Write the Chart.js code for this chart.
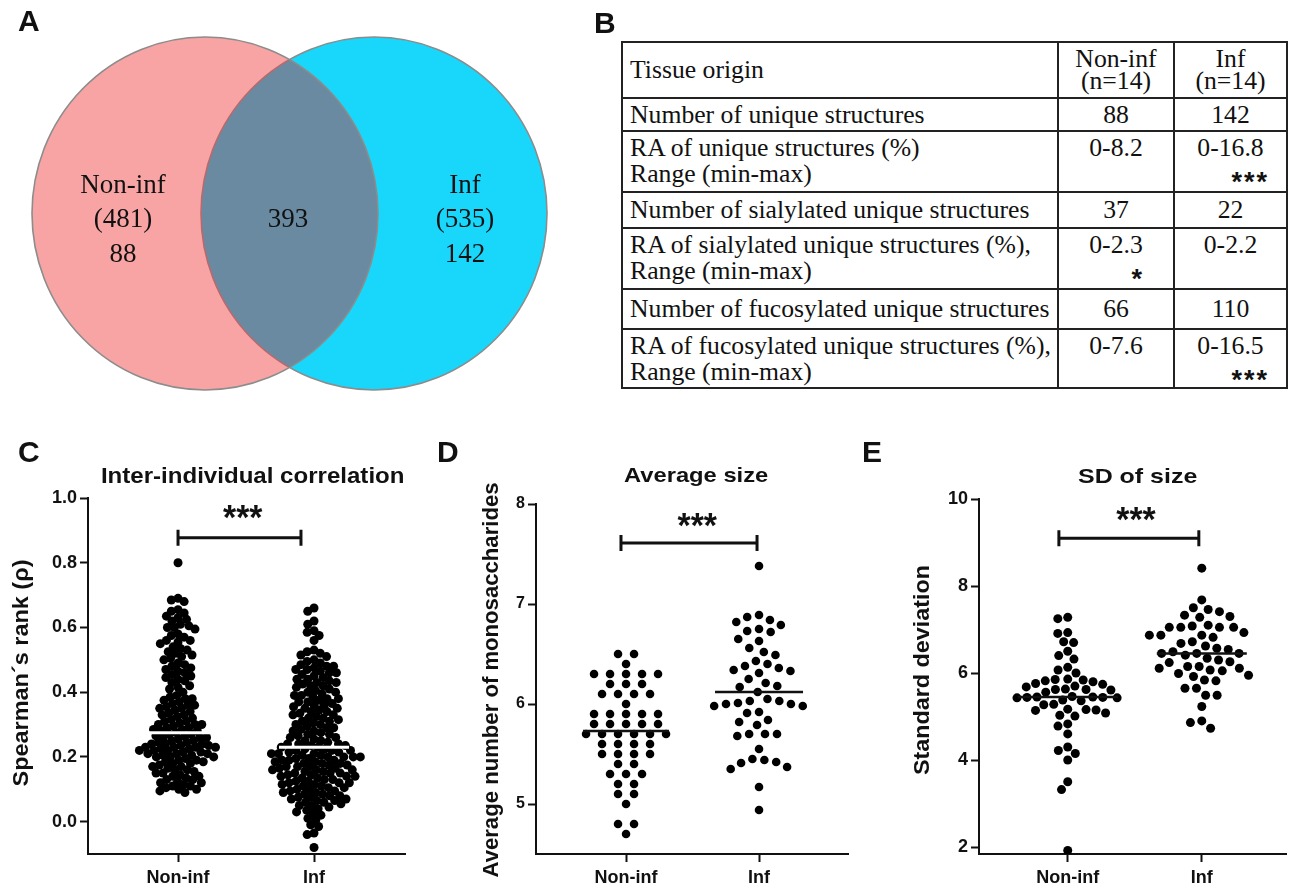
<!DOCTYPE html>
<html>
<head>
<meta charset="utf-8">
<title>Unique structures and dot plots, Non-inf vs Inf</title>
<script src="https://cdn.jsdelivr.net/npm/chart.js@4.4.1/dist/chart.umd.min.js"></script>
<style>
  html, body { margin: 0; padding: 0; background: #fff; }
  body { position: relative; width: 1291px; height: 886px; overflow: hidden; color: #111; }
  canvas, .letter, #tbl { position: absolute; }
  .letter { font: bold 30px "Liberation Sans", Arial, sans-serif; line-height: 30px; }
  #tbl { left: 621px; top: 41px; border-collapse: collapse; table-layout: fixed; width: 665px;
         font-family: "Liberation Serif", "Times New Roman", serif; font-size: 25.7px; color: #111; }
  #tbl td { border: 2px solid #222; padding: 0 7px; line-height: 26px; white-space: nowrap; }
  #tbl td.mid { vertical-align: middle; }
  #tbl td.top { vertical-align: top; padding-top: 3px; }
  #tbl td.hd { text-align: center; vertical-align: top; line-height: 22px; padding-top: 5px; }
  #tbl td.val { text-align: center; }
  #tbl .sig { font: bold 27px "Liberation Sans", Arial, sans-serif; letter-spacing: 2px; text-align: right;
              line-height: 26px; position: relative; top: 8px; }
</style>
</head>
<body>
<canvas id="venn" width="600" height="440" style="left:0;top:0"></canvas>
<table id="tbl"></table>
<canvas id="chartC" width="430" height="431" style="left:0;top:455px"></canvas>
<canvas id="chartD" width="430" height="431" style="left:430px;top:455px"></canvas>
<canvas id="chartE" width="431" height="431" style="left:860px;top:455px"></canvas>
<div class="letter" style="left:18px;top:6px">A</div>
<div class="letter" style="left:594px;top:8px">B</div>
<div class="letter" style="left:18px;top:437px">C</div>
<div class="letter" style="left:437px;top:437px">D</div>
<div class="letter" style="left:862px;top:437px">E</div>
<script>
// ---------- data ----------
const groups = ['Non-inf', 'Inf'];

// A: Venn
const vennTotals = [481, 535];
const vennUnique = [88, 142];
const vennShared = 393;

// B: table
const tableHead = [['Tissue origin'], ['Non-inf', '(n=14)'], ['Inf', '(n=14)']];
const rowLabels = [
  ['Number of unique structures'],
  ['RA of unique structures (%)', 'Range (min-max)'],
  ['Number of sialylated unique structures'],
  ['RA of sialylated unique structures (%),', 'Range (min-max)'],
  ['Number of fucosylated unique structures'],
  ['RA of fucosylated unique structures (%),', 'Range (min-max)']
];
const nonInfCol = ['88', '0-8.2', '37', '0-2.3', '66', '0-7.6'];
const infCol = ['142', '0-16.8', '22', '0-2.2', '110', '0-16.5'];
const nonInfSig = ['', '', '', '*', '', ''];
const infSig = ['', '***', '', '', '', '***'];

// C: inter-individual correlation (Spearman's rho)
const corrNonInf = [0.80, 0.69, 0.685, 0.68, 0.655, 0.65, 0.645, 0.635, 0.63, 0.625, 0.62, 0.61, 0.605, 0.60, 0.60,
  0.595, 0.58, 0.575, 0.57, 0.56, 0.56, 0.555, 0.55, 0.54, 0.535, 0.53, 0.525, 0.52, 0.515, 0.51, 0.505, 0.50,
  0.49, 0.485, 0.48, 0.475, 0.47, 0.465, 0.46, 0.455, 0.45, 0.445, 0.44, 0.435, 0.43, 0.42, 0.415, 0.41, 0.40,
  0.39, 0.385, 0.38, 0.38, 0.375, 0.37, 0.365, 0.36, 0.36, 0.355, 0.35, 0.35, 0.345, 0.34, 0.335, 0.33, 0.33,
  0.325, 0.32, 0.315, 0.31, 0.31, 0.305, 0.30, 0.30, 0.30, 0.295, 0.29, 0.29, 0.285, 0.285, 0.28, 0.28, 0.275,
  0.27, 0.27, 0.265, 0.265, 0.26, 0.26, 0.26, 0.255, 0.25, 0.25, 0.245, 0.245, 0.24, 0.24, 0.24, 0.235, 0.235,
  0.23, 0.23, 0.23, 0.23, 0.225, 0.225, 0.22, 0.22, 0.22, 0.215, 0.215, 0.21, 0.21, 0.21, 0.205, 0.205, 0.20,
  0.20, 0.20, 0.195, 0.19, 0.19, 0.185, 0.185, 0.18, 0.18, 0.175, 0.17, 0.17, 0.165, 0.16, 0.16, 0.155, 0.15,
  0.15, 0.145, 0.14, 0.14, 0.135, 0.13, 0.13, 0.125, 0.12, 0.12, 0.115, 0.11, 0.11, 0.105, 0.10, 0.10, 0.095, 0.09];
const corrInf = [0.66, 0.65, 0.62, 0.61, 0.59, 0.585, 0.575, 0.56, 0.53, 0.525, 0.52, 0.515, 0.51, 0.50,
  0.495, 0.49, 0.485, 0.48, 0.48, 0.475, 0.47, 0.47, 0.465, 0.46, 0.46, 0.455,
  0.45, 0.445, 0.44, 0.44, 0.435, 0.43, 0.43, 0.425, 0.42, 0.42, 0.415, 0.41, 0.405,
  0.40, 0.40, 0.395, 0.39, 0.39, 0.385, 0.38, 0.38, 0.375, 0.37, 0.37, 0.365, 0.36, 0.36, 0.355,
  0.35, 0.35, 0.345, 0.34, 0.34, 0.335, 0.33, 0.33, 0.325, 0.32, 0.32, 0.315, 0.31, 0.31, 0.305,
  0.30, 0.30, 0.295, 0.29, 0.29, 0.285, 0.28, 0.28, 0.275, 0.27, 0.27, 0.265, 0.26, 0.26, 0.255,
  0.25, 0.25, 0.245, 0.24, 0.24, 0.24, 0.235, 0.235, 0.23, 0.23, 0.225, 0.225, 0.22, 0.22, 0.22, 0.215, 0.215,
  0.21, 0.21, 0.21, 0.205, 0.205, 0.20, 0.20, 0.20, 0.20, 0.195, 0.195, 0.19, 0.19, 0.19, 0.185, 0.185,
  0.18, 0.18, 0.18, 0.175, 0.175, 0.17, 0.17, 0.17, 0.165, 0.165, 0.16, 0.16, 0.16, 0.155, 0.155,
  0.15, 0.15, 0.15, 0.145, 0.145, 0.14, 0.14, 0.14, 0.135, 0.135, 0.13, 0.13, 0.125, 0.125, 0.12, 0.12, 0.12,
  0.115, 0.115, 0.11, 0.11, 0.105, 0.105, 0.10, 0.10, 0.095, 0.095, 0.09, 0.09, 0.085, 0.085, 0.08, 0.08,
  0.075, 0.075, 0.07, 0.07, 0.065, 0.065, 0.06, 0.06, 0.055, 0.05, 0.05,
  0.045, 0.04, 0.035, 0.03, 0.025, 0.02, 0.01, 0.005, -0.01, -0.015, -0.035, -0.04, -0.08];
const corrMid = [0.275, 0.23];

// D: average number of monosaccharides
const sizeNonInf = [6.5, 6.5, 6.4, 6.3, 6.3, 6.3, 6.3, 6.3, 6.2, 6.2, 6.2, 6.1, 6.1, 6.1, 6.1, 6.0,
  5.9, 5.9, 5.9, 5.9, 5.9, 5.8, 5.8, 5.8, 5.8, 5.8, 5.7, 5.7, 5.7, 5.7, 5.7, 5.7, 5.6, 5.6, 5.6, 5.6,
  5.5, 5.5, 5.5, 5.5, 5.4, 5.4, 5.3, 5.3, 5.3, 5.2, 5.2, 5.1, 5.1, 5.0, 4.8, 4.8, 4.7];
const sizeInf = [7.38, 6.89, 6.87, 6.84, 6.82, 6.79, 6.75, 6.73, 6.72, 6.65, 6.63, 6.56, 6.52, 6.49, 6.43,
  6.40, 6.38, 6.36, 6.34, 6.33, 6.31, 6.25, 6.21, 6.18, 6.17, 6.12, 6.05, 6.03, 6.03, 6.01, 6.00, 6.00,
  5.98, 5.98, 5.92, 5.91, 5.84, 5.82, 5.79, 5.70, 5.70, 5.70, 5.68, 5.55, 5.45, 5.44, 5.42, 5.41, 5.37,
  5.35, 5.17, 4.94];
const sizeMid = [5.73, 6.12];

// E: standard deviation of size
const sdNonInf = [7.28, 7.25, 6.93, 6.91, 6.72, 6.70, 6.50, 6.40, 6.32, 6.13, 6.07, 6.00, 5.86, 5.85, 5.84,
  5.82, 5.80, 5.76, 5.74, 5.70, 5.68, 5.63, 5.62, 5.62, 5.61, 5.56, 5.46, 5.45, 5.45, 5.44, 5.44, 5.43, 5.43,
  5.38, 5.36, 5.28, 5.27, 5.17, 5.16, 5.15, 5.14, 5.08, 5.03, 5.01, 4.83, 4.78, 4.60, 4.30, 4.22, 4.15, 4.00,
  3.50, 3.32, 1.92];
const sdInf = [8.41, 7.68, 7.50, 7.46, 7.41, 7.33, 7.30, 7.28, 7.10, 7.08, 7.05, 7.05, 7.05, 7.05, 6.93, 6.87,
  6.87, 6.87, 6.82, 6.72, 6.68, 6.62, 6.57, 6.54, 6.49, 6.45, 6.45, 6.45, 6.41, 6.34, 6.30, 6.26, 6.24, 6.15,
  6.15, 6.11, 6.11, 6.07, 6.05, 5.99, 5.95, 5.92, 5.84, 5.82, 5.65, 5.65, 5.49, 5.49, 5.23, 4.90, 4.86, 4.73];
const sdMid = [5.45, 6.45];

const yTicksC = [0, 0.2, 0.4, 0.6, 0.8, 1.0];
const yTicksD = [5, 6, 7, 8];
const yTicksE = [2, 4, 6, 8, 10];

Chart.defaults.font.family = '"Liberation Sans", Arial, sans-serif';
Chart.defaults.color = '#111';

// ---------- B: table ----------
const rowHeights = [33, 61, 36, 61, 40, 59];
(function buildTable() {
  let h = '<colgroup><col style="width:436px"><col style="width:116px"><col style="width:113px"></colgroup>';
  h += '<tr style="height:56px"><td class="mid">' + tableHead[0][0] + '</td>' +
       '<td class="hd">' + tableHead[1].join('<br>') + '</td>' +
       '<td class="hd">' + tableHead[2].join('<br>') + '</td></tr>';
  rowLabels.forEach((lab, i) => {
    const cls = lab.length > 1 ? 'top' : 'mid';
    const cell = (v, s, pr) => '<td class="val ' + cls + '">' + v +
      (s ? '<div class="sig" style="padding-right:' + pr + 'px">' + s + '</div>' : '') + '</td>';
    h += '<tr style="height:' + rowHeights[i] + 'px"><td class="' + cls + '">' + lab.join('<br>') + '</td>' +
         cell(nonInfCol[i], nonInfSig[i], 22) + cell(infCol[i], infSig[i], 10) + '</tr>';
  });
  document.getElementById('tbl').innerHTML = h;
})();

// ---------- A: Venn ----------
const vennPlugin = {
  id: 'venn',
  afterDraw(chart, args, o) {
    const { ctx } = chart;
    const sx = chart.scales.x, sy = chart.scales.y;
    const e = o.centers.map(c => ({
      x: sx.getPixelForValue(c), y: sy.getPixelForValue(o.cy),
      rx: Math.abs(sx.getPixelForValue(o.rx) - sx.getPixelForValue(0)),
      ry: Math.abs(sy.getPixelForValue(o.ry) - sy.getPixelForValue(0))
    }));
    const path = el => { ctx.beginPath(); ctx.ellipse(el.x, el.y, el.rx, el.ry, 0, 0, Math.PI * 2); };
    ctx.save();
    path(e[0]); ctx.fillStyle = o.colors[0]; ctx.fill();
    path(e[1]); ctx.fillStyle = o.colors[1]; ctx.fill();
    // overlap region
    ctx.save(); path(e[0]); ctx.clip();
    path(e[1]); ctx.fillStyle = o.colors[2]; ctx.fill();
    ctx.strokeStyle = '#b9696c'; ctx.lineWidth = 1.6; ctx.stroke();
    ctx.restore();
    ctx.strokeStyle = '#8c8c8c'; ctx.lineWidth = 1.6;
    path(e[0]); ctx.stroke();
    // outer part of the right ellipse outline
    ctx.save();
    ctx.beginPath(); ctx.rect(0, 0, chart.width, chart.height);
    ctx.ellipse(e[0].x, e[0].y, e[0].rx, e[0].ry, 0, 0, Math.PI * 2, true);
    ctx.clip('evenodd');
    path(e[1]); ctx.stroke();
    ctx.restore();

    ctx.fillStyle = '#111';
    ctx.font = '27px "Liberation Serif", "Times New Roman", serif';
    ctx.textAlign = 'center'; ctx.textBaseline = 'alphabetic';
    groups.forEach((g, i) => {
      const x = sx.getPixelForValue(o.textX[i]);
      ctx.fillText(g, x, sy.getPixelForValue(o.lines[0]));
      ctx.fillText('(' + vennTotals[i] + ')', x, sy.getPixelForValue(o.lines[1]));
      ctx.fillText(String(vennUnique[i]), x, sy.getPixelForValue(o.lines[2]));
    });
    ctx.fillText(String(vennShared), sx.getPixelForValue(o.sharedX), sy.getPixelForValue(o.lines[1]));
    ctx.restore();
  }
};

new Chart(document.getElementById('venn'), {
  type: 'scatter',
  data: { datasets: [] },
  plugins: [vennPlugin],
  options: {
    responsive: false, animation: false,
    layout: { padding: 0 },
    plugins: {
      legend: { display: false }, tooltip: { enabled: false },
      venn: {
        centers: [205, 374], cy: 213.5, rx: 173, ry: 176.5,
        colors: ['#f8a4a4', '#19d6fb', '#6a8aa1'],
        textX: [123, 465], sharedX: 288, lines: [193, 227, 262]
      }
    },
    scales: {
      x: { type: 'linear', display: false, min: 0, max: 600 },
      y: { type: 'linear', display: false, min: 0, max: 440, reverse: true }
    }
  }
});

// ---------- C, D, E: dot plots ----------
function fitText(ctx, text, font, x0, y0, w, h) {
  ctx.font = font;
  const m = ctx.measureText(text);
  const tw = m.actualBoundingBoxLeft + m.actualBoundingBoxRight;
  const th = m.actualBoundingBoxAscent + m.actualBoundingBoxDescent;
  ctx.save();
  ctx.translate(x0, y0);
  ctx.scale(w / tw, h / th);
  ctx.textAlign = 'left'; ctx.textBaseline = 'alphabetic';
  ctx.fillText(text, m.actualBoundingBoxLeft, m.actualBoundingBoxAscent);
  ctx.restore();
}

const decor = {
  id: 'decor',
  afterDatasetsDraw(chart, args, o) {
    const { ctx } = chart;
    const sx = chart.scales.x, sy = chart.scales.y;
    ctx.save();
    ctx.fillStyle = '#111';
    // middle lines
    o.mid.forEach((m, i) => {
      const cx = sx.getPixelForValue(i + 1), y = sy.getPixelForValue(m);
      ctx.strokeStyle = o.midColor; ctx.lineWidth = o.midWidth;
      ctx.beginPath(); ctx.moveTo(cx - o.midHalf[i], y); ctx.lineTo(cx + o.midHalf[i], y); ctx.stroke();
    });
    // significance bracket
    const x1 = sx.getPixelForValue(o.sigX[0]), x2 = sx.getPixelForValue(o.sigX[1]);
    const by = sy.getPixelForValue(o.sigY);
    ctx.strokeStyle = '#111'; ctx.lineWidth = 3;
    ctx.beginPath();
    ctx.moveTo(x1, by); ctx.lineTo(x2, by);
    ctx.moveTo(x1, by - 8); ctx.lineTo(x1, by + 8);
    ctx.moveTo(x2, by - 8); ctx.lineTo(x2, by + 8);
    ctx.stroke();
    const sc = sx.getPixelForValue(o.starX);
    fitText(ctx, '***', 'bold 32px "Liberation Sans", Arial, sans-serif', sc - 20, by - o.starGap - 13, 40, 13);
    // title
    fitText(ctx, o.title, 'bold 22px "Liberation Sans", Arial, sans-serif', o.titleBox[0], o.titleBox[1], o.titleBox[2], o.titleBox[3]);
    // y axis title
    ctx.font = 'bold 22px "Liberation Sans", Arial, sans-serif';
    const tw = ctx.measureText(o.yTitle).width;
    ctx.translate(o.yTitlePos[0], o.yTitlePos[1]);
    ctx.rotate(-Math.PI / 2);
    ctx.scale(o.yTitleLen / tw, 1);
    ctx.textAlign = 'center'; ctx.textBaseline = 'middle';
    ctx.fillText(o.yTitle, 0, 0);
    ctx.restore();
  }
};

function swarmOffsets(py, d) {
  const order = py.map((_, i) => i).sort((a, b) => py[a] - py[b]);
  const placed = [], out = new Array(py.length).fill(0);
  order.forEach(i => {
    const y = py[i];
    const near = placed.filter(p => Math.abs(p.y - y) < d);
    const cand = [0];
    near.forEach(p => { const dx = Math.sqrt(d * d - (p.y - y) ** 2); cand.push(p.x - dx, p.x + dx); });
    cand.sort((a, b) => Math.abs(a) - Math.abs(b));
    const x = cand.find(c => near.every(p => (p.x - c) ** 2 + (p.y - y) ** 2 >= d * d - 0.01));
    out[i] = x; placed.push({ x, y });
  });
  return out;
}

function rowOffsets(vals, gap) {
  const rows = {};
  vals.forEach((v, i) => { (rows[v.toFixed(3)] = rows[v.toFixed(3)] || []).push(i); });
  const out = new Array(vals.length).fill(0);
  Object.values(rows).forEach(idx => idx.forEach((i, k) => { out[i] = (k - (idx.length - 1) / 2) * gap; }));
  return out;
}

function dotPlot(id, cfg) {
  const chart = new Chart(document.getElementById(id), {
    type: 'scatter',
    data: {
      datasets: cfg.series.map(s => ({
        data: s.map(v => ({ x: 1, y: v })),
        pointRadius: cfg.radius, pointHoverRadius: cfg.radius,
        pointBackgroundColor: '#000', pointBorderWidth: 0, borderColor: '#000'
      }))
    },
    plugins: [decor],
    options: {
      responsive: false, animation: false,
      layout: { padding: { top: cfg.padTop, right: cfg.padRight, left: 0, bottom: 0 } },
      plugins: { legend: { display: false }, tooltip: { enabled: false }, decor: cfg.decor },
      scales: {
        x: {
          type: 'linear', min: cfg.xRange[0], max: cfg.xRange[1],
          afterBuildTicks: s => { s.ticks = [{ value: 1 }, { value: 2 }]; },
          afterFit: s => { s.height = 32; },
          ticks: { callback: v => groups[v - 1], font: { size: 18, weight: 'bold' }, color: '#111',
                   padding: 5, autoSkip: false, maxRotation: 0 },
          grid: { drawOnChartArea: false, drawTicks: true, tickLength: 8, tickWidth: 2, color: '#111' },
          border: { display: true, color: '#111', width: 2 }
        },
        y: {
          type: 'linear', min: cfg.yRange[0], max: cfg.yRange[1],
          afterBuildTicks: s => { s.ticks = cfg.yTicks.map(v => ({ value: v })); },
          afterFit: s => { s.width = cfg.yWidth; },
          ticks: { callback: cfg.fmt, font: { size: cfg.tickSize, weight: 'bold' }, color: '#111', padding: 3 },
          grid: { drawOnChartArea: false, drawTicks: true, tickLength: 8, tickWidth: 2, color: '#111' },
          border: { display: true, color: '#111', width: 2 }
        }
      }
    }
  });
  // beeswarm placement of the dots around each category
  const sx = chart.scales.x, sy = chart.scales.y;
  const unit = sx.getPixelForValue(2) - sx.getPixelForValue(1);
  chart.data.datasets.forEach((ds, i) => {
    const vals = cfg.series[i];
    const off = cfg.mode[i] === 'rows' ? rowOffsets(vals, cfg.gap[i])
                                        : swarmOffsets(vals.map(v => sy.getPixelForValue(v)), cfg.gap[i]);
    ds.data = vals.map((v, k) => ({ x: i + 1 + off[k] / unit, y: v }));
  });
  chart.update('none');
  return chart;
}

dotPlot('chartC', {
  series: [corrNonInf, corrInf], mode: ['swarm', 'swarm'], gap: [6.9, 7.05], radius: 4.5, tickSize: 18,
  xRange: [0.338, 2.669], yRange: [-0.1, 1.0], yTicks: yTicksC, fmt: v => v.toFixed(1),
  yWidth: 88, padTop: 43, padRight: 25,
  decor: {
    mid: corrMid, midColor: '#ffffff', midWidth: 3, midHalf: [40, 35],
    sigX: [1.0, 1.904], sigY: 0.877, starX: 1.478, starGap: 20,
    title: 'Inter-individual correlation', titleBox: [102, 12, 302, 16],
    yTitle: 'Spearman\u00b4s rank (\u03c1)', yTitlePos: [22, 218], yTitleLen: 227
  }
});

dotPlot('chartD', {
  series: [sizeNonInf, sizeInf], mode: ['rows', 'swarm'], gap: [16, 12], radius: 4.3, tickSize: 16,
  xRange: [0.323, 2.669], yRange: [4.5, 8], yTicks: yTicksD, fmt: v => String(v),
  yWidth: 106, padTop: 49, padRight: 12,
  decor: {
    mid: sizeMid, midColor: '#111', midWidth: 2.5, midHalf: [43, 44],
    sigX: [0.962, 1.985], sigY: 7.61, starX: 1.538, starGap: 17,
    title: 'Average size', titleBox: [194, 13, 144, 19],
    yTitle: 'Average number of monosaccharides', yTitlePos: [62, 225], yTitleLen: 395
  }
});

dotPlot('chartE', {
  series: [sdNonInf, sdInf], mode: ['swarm', 'swarm'], gap: [10, 11.5], radius: 4.5, tickSize: 18,
  xRange: [0.338, 2.632], yRange: [1.84, 10], yTicks: yTicksE, fmt: v => String(v),
  yWidth: 119, padTop: 44, padRight: 0,
  decor: {
    mid: sdMid, midColor: '#111', midWidth: 2.5, midHalf: [50, 45],
    sigX: [0.934, 1.978], sigY: 9.10, starX: 1.511, starGap: 18,
    title: 'SD of size', titleBox: [218, 13, 119, 15],
    yTitle: 'Standard deviation', yTitlePos: [63, 215], yTitleLen: 210
  }
});
</script>
</body>
</html>
